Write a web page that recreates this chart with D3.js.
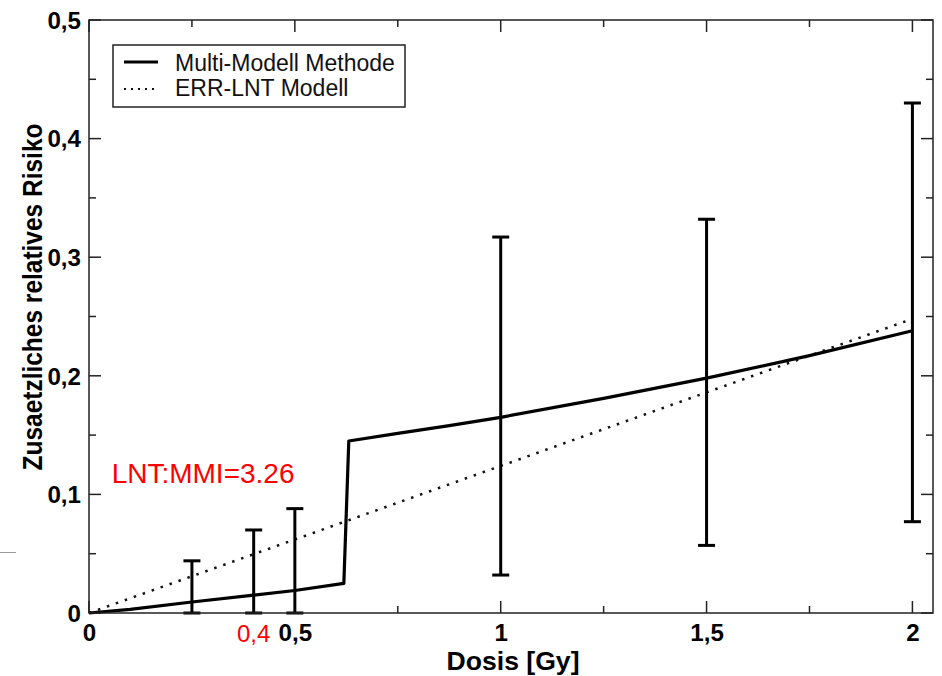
<!DOCTYPE html>
<meta charset="utf-8">
<style>
body { margin: 0; background: #fff; }
svg { font-family: "Liberation Sans", Arial, sans-serif; }
.tick text { font-weight: bold; font-size: 23px; fill: #000; }
.frame { fill: none; stroke: #222; stroke-width: 1.5; }
</style>
<body>
<div id="vis-container"></div>
<script src="https://cdn.jsdelivr.net/npm/d3@7"></script>
<script>

// Data
var mmmDose = [0, 0.1, 0.25, 0.4, 0.5, 0.619, 0.631, 0.75, 0.875, 1.0, 1.25, 1.5, 1.75, 2.0];
var mmmRisk = [0, 0.003, 0.0093, 0.015, 0.019, 0.025, 0.145, 0.1514, 0.158, 0.165, 0.181, 0.198, 0.217, 0.238];

var lntDose = [0, 2.0];
var lntRisk = [0, 0.248];

var errDose = [0.25, 0.4, 0.5, 1.0, 1.5, 2.0];
var errLow  = [0, 0, 0, 0.032, 0.057, 0.077];
var errHigh = [0.044, 0.070, 0.088, 0.317, 0.332, 0.430];

var xTicks = [0, 0.5, 1, 1.5, 2];
var xTickLabels = ["0", "0,5", "1", "1,5", "2"];
var xMinor = [0.25, 0.75, 1.25, 1.75];
var yTicks = [0, 0.1, 0.2, 0.3, 0.4, 0.5];
var yTickLabels = ["0", "0,1", "0,2", "0,3", "0,4", "0,5"];
var yMinor = [0.05, 0.15, 0.25, 0.35, 0.45];

var legendNames = ["Multi-Modell Methode", "ERR-LNT Modell"];

var W = 942, H = 676;
var margin = {top: 20, right: 9, bottom: 63, left: 89};
var width = W - margin.left - margin.right,
    height = H - margin.top - margin.bottom;

var x = d3.scaleLinear().domain([0, 2.05]).range([0, width]);
var y = d3.scaleLinear().domain([0, 0.5]).range([height, 0]);

var svg = d3.select("#vis-container").append("svg")
  .attr("width", W)
  .attr("height", H)
  .append("g")
  .attr("transform", "translate(" + margin.left + "," + margin.top + ")");

// widen bold labels a little, the original lettering is broader
function widen(sel, f) {
  sel.each(function() {
    var w = this.getComputedTextLength();
    d3.select(this).attr("textLength", w * f).attr("lengthAdjust", "spacingAndGlyphs");
  });
}

// stray mark on the left edge of the picture
svg.append("line")
  .attr("x1", -margin.left).attr("x2", -margin.left + 16)
  .attr("y1", y(0.051)).attr("y2", y(0.051))
  .attr("stroke", "#999").attr("stroke-width", 1);

// ticks, inward, on all four sides
var tickG = svg.append("g").attr("stroke", "#222").attr("stroke-width", 1.5);
function addTicks(vals, len) {
  vals.forEach(function(v) {
    tickG.append("line").attr("x1", x(v)).attr("x2", x(v)).attr("y1", height).attr("y2", height - len);
    tickG.append("line").attr("x1", x(v)).attr("x2", x(v)).attr("y1", 0).attr("y2", len);
  });
}
function addYTicks(vals, len) {
  vals.forEach(function(v) {
    tickG.append("line").attr("y1", y(v)).attr("y2", y(v)).attr("x1", 0).attr("x2", len);
    tickG.append("line").attr("y1", y(v)).attr("y2", y(v)).attr("x1", width).attr("x2", width - len);
  });
}
addTicks(xTicks, 12);
addTicks(xMinor, 7);
addYTicks(yTicks, 12);
addYTicks(yMinor, 7);

// axis labels via d3 axes (no tick lines)
var xAxis = svg.append("g")
  .attr("transform", "translate(0," + height + ")")
  .call(d3.axisBottom(x).tickValues(xTicks).tickSize(0).tickPadding(0)
    .tickFormat(function(d, i) { return xTickLabels[i]; }));
xAxis.select(".domain").remove();
xAxis.selectAll(".tick text").attr("y", 28).attr("dy", 0);
widen(xAxis.selectAll(".tick text"), 1.05);

var yAxis = svg.append("g")
  .call(d3.axisLeft(y).tickValues(yTicks).tickSize(0).tickPadding(8)
    .tickFormat(function(d, i) { return yTickLabels[i]; }));
yAxis.select(".domain").remove();
yAxis.selectAll(".tick text").attr("dy", "0.36em");
widen(yAxis.selectAll(".tick text"), 1.05);

// extra red tick label at 0,4
svg.append("text")
  .attr("x", x(0.4)).attr("y", height + 29)
  .attr("text-anchor", "middle")
  .attr("fill", "#f00")
  .style("font-size", "24px")
  .text("0,4");

// LNT dotted
var line = d3.line().x(function(d) { return x(d[0]); }).y(function(d) { return y(d[1]); });
svg.append("path")
  .datum(d3.zip(lntDose, lntRisk))
  .attr("d", line)
  .attr("fill", "none")
  .attr("stroke", "#111")
  .attr("stroke-width", 2.5)
  .attr("stroke-dasharray", "2.5,7");

// error bars
var eb = svg.append("g").attr("stroke", "#000").attr("stroke-width", 3);
errDose.forEach(function(d, i) {
  eb.append("line").attr("x1", x(d)).attr("x2", x(d)).attr("y1", y(errLow[i])).attr("y2", y(errHigh[i]));
  eb.append("line").attr("x1", x(d) - 8.5).attr("x2", x(d) + 8.5).attr("y1", y(errLow[i])).attr("y2", y(errLow[i]));
  eb.append("line").attr("x1", x(d) - 8.5).attr("x2", x(d) + 8.5).attr("y1", y(errHigh[i])).attr("y2", y(errHigh[i]));
});

// Multi-Modell curve
svg.append("path")
  .datum(d3.zip(mmmDose, mmmRisk))
  .attr("d", line)
  .attr("fill", "none")
  .attr("stroke", "#000")
  .attr("stroke-width", 3.2)
  .attr("stroke-linejoin", "round");

// frame
svg.append("rect").attr("class", "frame").attr("width", width).attr("height", height);

// legend
var lg = svg.append("g").attr("transform", "translate(24,25)");
lg.append("rect").attr("width", 292).attr("height", 62)
  .attr("fill", "#fff").attr("stroke", "#222").attr("stroke-width", 1.5);
lg.append("line").attr("x1", 11).attr("x2", 45).attr("y1", 17).attr("y2", 17)
  .attr("stroke", "#000").attr("stroke-width", 3.2);
lg.append("line").attr("x1", 11).attr("x2", 45).attr("y1", 44).attr("y2", 44)
  .attr("stroke", "#111").attr("stroke-width", 2).attr("stroke-dasharray", "2,5");
legendNames.forEach(function(n, i) {
  lg.append("text").attr("x", 62).attr("y", 26 + i * 25)
    .style("font-size", "23px").attr("fill", "#111").text(n);
});

// annotation
svg.append("text")
  .attr("x", x(0.055)).attr("y", y(0.1096))
  .attr("fill", "#f00")
  .style("font-size", "28px")
  .text("LNT:MMI=3.26");

// axis titles
svg.append("text")
  .attr("x", 424).attr("y", height + 57)
  .attr("text-anchor", "middle")
  .style("font-weight", "bold").style("font-size", "26px")
  .attr("textLength", 133).attr("lengthAdjust", "spacingAndGlyphs")
  .text("Dosis [Gy]");

svg.append("text")
  .attr("transform", "rotate(-90)")
  .attr("x", -277).attr("y", -47)
  .attr("text-anchor", "middle")
  .style("font-weight", "bold").style("font-size", "27px")
  .attr("textLength", 347).attr("lengthAdjust", "spacingAndGlyphs")
  .text("Zusaetzliches relatives Risiko");

</script>
</body>
</html>
